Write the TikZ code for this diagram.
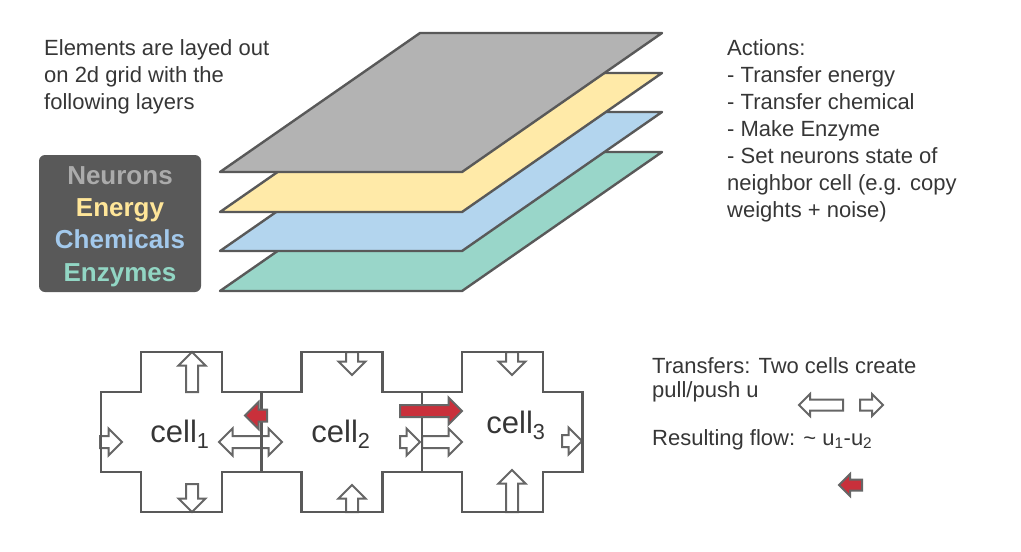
\documentclass[tikz,border=0pt]{standalone}
\usepackage{fontspec}
\setmainfont{Liberation Sans}
\usetikzlibrary{shapes.arrows}

\definecolor{linegray}{HTML}{595959}
\definecolor{arrowgray}{HTML}{666666}
\definecolor{textgray}{HTML}{363636}
\definecolor{neurongray}{HTML}{B3B3B3}
\definecolor{energyyellow}{HTML}{FFEAA8}
\definecolor{chemblue}{HTML}{B3D5EE}
\definecolor{enzymegreen}{HTML}{99D6C9}
\definecolor{flowred}{HTML}{C9303B}

\tikzset{
  plane/.style = {draw=linegray, line width=2.4pt, line join=round},
  cellbox/.style = {draw=linegray, line width=2.6pt},
  hollow/.style = {single arrow, draw=arrowgray, fill=white, line width=2pt,
                   inner sep=0pt, inner ysep=5pt, outer sep=0pt, minimum width=25pt,
                   single arrow head extend=7.5pt, anchor=tail, minimum height=#1},
  hollow/.default = 22pt,
  redflow/.style = {hollow=#1, fill=flowred},
  twoway/.style = {double arrow, draw=arrowgray, fill=white, line width=2pt,
                   inner sep=0pt, inner ysep=5pt, outer sep=0pt, minimum width=25pt,
                   double arrow head extend=7.5pt, minimum height=#1},
  label/.style = {text=textgray, inner sep=0pt, align=left, anchor=north west,
                  font=\fontsize{22}{27}\selectfont},
  celltext/.style = {text=textgray, inner sep=0pt, anchor=base,
                     font=\fontsize{31}{36}\selectfont}
}

\begin{document}
\begin{tikzpicture}[x=1pt, y=-1pt]
\useasboundingbox (0,0) rectangle (1021,552);

% layers, bottom one first
\foreach \yb/\col in {291/enzymegreen, 251/chemblue, 212/energyyellow, 172/neurongray}
  \draw[plane, fill=\col] (220,\yb) -- (462,\yb) -- (662,\yb-139) -- (420,\yb-139) -- cycle;

\node[label] (intro) at (44,39) {Elements are layed out\\on 2d grid with the\\following layers};
\node[label] (actions) at (727,39) {Actions:\\- Transfer energy\\- Transfer chemical\\- Make Enzyme\\- Set neurons state of\\neighbor cell (e.g. copy\\weights + noise)};

\node[fill=linegray, rounded corners=6pt, minimum width=162pt, minimum height=137pt]
  (legend) at (120,223.5) {};
\node[align=center, inner sep=0pt, font=\fontsize{26}{32.3}\bfseries\selectfont]
  (layernames) at (120,226.5)
  {\textcolor[HTML]{ABABAB}{Neurons}\\\textcolor[HTML]{FFE699}{Energy}\\
   \textcolor[HTML]{A3C9EC}{Chemicals}\\\textcolor[HTML]{92D6C4}{Enzymes}};

% hollow arrows sit under the cell walls
\node[hollow=40pt, rotate=90] (up1) at (192,392) {};
\node[hollow=28pt, rotate=-90] (down1) at (192,484) {};
\node[hollow=22pt] (in1) at (100,442) {};
\node[twoway=63pt] (both12) at (250.5,442) {};
\node[hollow=23pt, rotate=-90] (down2) at (352,352) {};
\node[hollow=27pt, rotate=90] (up2) at (352,512) {};
\node[hollow=20pt] (out2) at (400,442) {};
\node[hollow=40pt] (in3) at (422,442) {};
\node[hollow=23pt, rotate=-90] (down3) at (512,352) {};
\node[hollow=42pt, rotate=90] (up3) at (512,512) {};
\node[hollow=20pt] (out3) at (562,441) {};

% cells
\foreach \i in {0,1,2}{
  \pgfmathsetmacro{\xl}{101+160.5*\i}
  \draw[cellbox] (\xl,392) -- (\xl+40,392) -- (\xl+40,352) -- (\xl+121,352) -- (\xl+121,392)
    -- (\xl+160.5,392) -- (\xl+160.5,472) -- (\xl+121,472) -- (\xl+121,512) -- (\xl+40,512)
    -- (\xl+40,472) -- (\xl,472) -- cycle;
}
\node[celltext] (cell1) at (180,442) {cell\textsubscript{1}};
\node[celltext] (cell2) at (341,442) {cell\textsubscript{2}};
\node[celltext] (cell3) at (516,433) {cell\textsubscript{3}};

% resulting flows
\node[redflow=22pt, rotate=180] (back12) at (267,415.5) {};
\node[redflow=62pt] (push23) at (400,411) {};

% explanation on the right
\node[label, font=\fontsize{22}{24.5}\selectfont] (transfers) at (652,357) {Transfers: Two cells create\\pull/push u};
\node[label] (result) at (652,429) {Resulting flow: \textasciitilde{} u\textsubscript{1}-u\textsubscript{2}};
\node[hollow=44pt, rotate=180, minimum width=20pt, single arrow head extend=5.5pt, inner ysep=4.5pt] (pull) at (843,405) {};
\node[hollow=23pt, minimum width=20pt, single arrow head extend=5.5pt, inner ysep=4.5pt] (push) at (860,405) {};
\node[redflow=23pt, rotate=180, minimum width=20pt, single arrow head extend=5.5pt, inner ysep=4.5pt] (flow) at (862,485) {};
\end{tikzpicture}
\end{document}
